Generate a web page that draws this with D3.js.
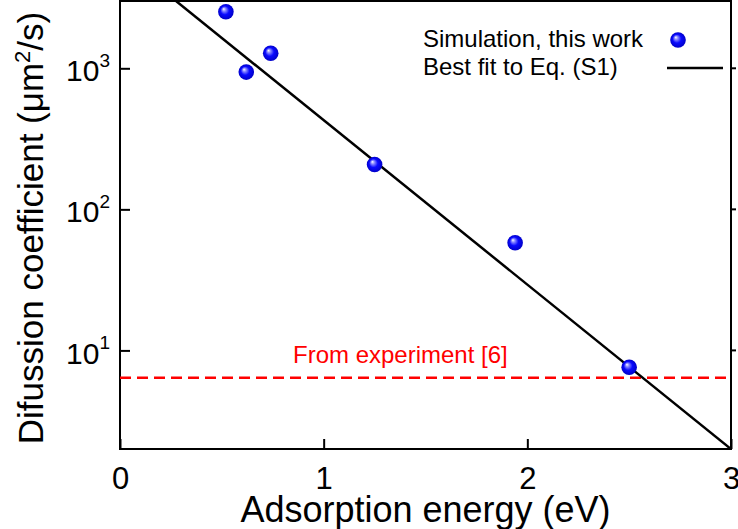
<!DOCTYPE html>
<html>
<head>
<meta charset="utf-8">
<script src="https://cdn.jsdelivr.net/npm/d3@7"></script>
<style>
  body { margin: 0; background: #fff; }
  text { font-family: "Liberation Sans", Arial, sans-serif; }
</style>
</head>
<body>
<div class="svg-container"></div>
<script>
// simulation points: adsorption energy (eV) vs diffusion coefficient (um^2/s)
var energy = [0.52, 0.62, 0.74, 1.25, 1.94, 2.50];
var diffusion = [2520, 940, 1280, 208, 58, 7.6];

// best fit to Eq. (S1), read as two end points
var fitEnergy = [0.275, 3.0];
var fitDiffusion = [3000, 2.0];

var experimentValue = 6.4;

var xTicks = [0, 1, 2, 3];
var yTicks = [10, 100, 1000];
var yExponents = ['1', '2', '3'];

var width = 738, height = 529;
var margin = {top: 1, right: 7, bottom: 80, left: 120};

var svg = d3.select('.svg-container').append('svg')
  .attr('width', width)
  .attr('height', height);

var defs = svg.append('defs');
var grad = defs.append('radialGradient')
  .attr('id', 'ball')
  .attr('cx', '50%').attr('cy', '50%').attr('r', '50%')
  .attr('fx', '35%').attr('fy', '32%');
grad.append('stop').attr('offset', '0%').attr('stop-color', '#ffffff');
grad.append('stop').attr('offset', '22%').attr('stop-color', '#8c8cff');
grad.append('stop').attr('offset', '55%').attr('stop-color', '#0a0aff');
grad.append('stop').attr('offset', '100%').attr('stop-color', '#0000c8');

defs.append('clipPath').attr('id', 'plot-clip')
  .append('rect')
  .attr('x', margin.left).attr('y', margin.top)
  .attr('width', width - margin.left - margin.right)
  .attr('height', height - margin.top - margin.bottom);

var x = d3.scaleLinear()
  .domain([0, 3])
  .range([margin.left, width - margin.right]);

var y = d3.scaleLog()
  .domain([2, 3000])
  .range([height - margin.bottom, margin.top]);

// frame
svg.append('rect')
  .attr('x', margin.left).attr('y', margin.top)
  .attr('width', width - margin.left - margin.right)
  .attr('height', height - margin.top - margin.bottom)
  .attr('fill', 'none')
  .attr('stroke', '#000')
  .attr('stroke-width', 2);

// axes with inward ticks
var xAxis = svg.append('g')
  .attr('transform', 'translate(0,' + (height - margin.bottom) + ')')
  .call(d3.axisBottom(x).tickValues(xTicks).tickSize(-10).tickPadding(18).tickFormat(d3.format('d')));

xAxis.select('.domain').remove();
xAxis.selectAll('line').attr('stroke-width', 2);
xAxis.selectAll('text')
  .attr('font-size', 31)
  .attr('fill', '#000')
  .attr('dy', '0.71em');

var yAxis = svg.append('g')
  .attr('transform', 'translate(' + margin.left + ',0)')
  .call(d3.axisLeft(y).tickValues(yTicks).tickSize(-10).tickPadding(10).tickFormat(function() { return ''; }));

yAxis.select('.domain').remove();
yAxis.selectAll('line').attr('stroke-width', 2);
yAxis.selectAll('text')
  .attr('font-size', 30)
  .attr('fill', '#000')
  .attr('dy', '0.42em')
  .each(function(d, i) {
    var t = d3.select(this);
    t.append('tspan').text('10');
    t.append('tspan').attr('font-size', 19).attr('dy', '-0.75em').text(yExponents[i]);
  });

// small outer ticks on the right side
svg.append('g').selectAll('line')
  .data(yTicks)
  .enter()
  .append('line')
  .attr('x1', width - margin.right)
  .attr('x2', width - margin.right + 5)
  .attr('y1', function(d) { return y(d); })
  .attr('y2', function(d) { return y(d); })
  .attr('stroke', '#000')
  .attr('stroke-width', 2);

// axis titles
svg.append('text')
  .attr('x', (margin.left + width - margin.right) / 2)
  .attr('y', 522)
  .attr('text-anchor', 'middle')
  .attr('font-size', 36)
  .text('Adsorption energy (eV)');

var yl = svg.append('text')
  .attr('transform', 'translate(43,228) rotate(-90)')
  .attr('text-anchor', 'middle')
  .attr('font-size', 35);
yl.append('tspan').text('Difussion coefficient (\u03bcm');
yl.append('tspan').attr('font-size', 22).attr('dy', '-0.6em').text('2');
yl.append('tspan').attr('dy', '0.38em').text('/s)');

var plot = svg.append('g').attr('clip-path', 'url(#plot-clip)');

// experiment reference
plot.append('line')
  .attr('x1', x(0)).attr('x2', x(3))
  .attr('y1', y(experimentValue)).attr('y2', y(experimentValue))
  .attr('stroke', '#ff0000')
  .attr('stroke-width', 2.5)
  .attr('stroke-dasharray', '11,6');

svg.append('text')
  .attr('x', 293)
  .attr('y', 363)
  .attr('font-size', 24)
  .attr('fill', '#ff0000')
  .text('From experiment [6]');

// fit line
var fitData = fitEnergy.map(function(e, i) { return [e, fitDiffusion[i]]; });
plot.append('path')
  .datum(fitData)
  .attr('d', d3.line().x(function(d) { return x(d[0]); }).y(function(d) { return y(d[1]); }))
  .attr('fill', 'none')
  .attr('stroke', '#000')
  .attr('stroke-width', 2.5);

// simulation points
var points = energy.map(function(e, i) { return {e: e, d: diffusion[i]}; });
svg.append('g').selectAll('circle')
  .data(points)
  .enter()
  .append('circle')
  .attr('cx', function(d) { return x(d.e); })
  .attr('cy', function(d) { return y(d.d); })
  .attr('r', 7.8)
  .attr('fill', 'url(#ball)');

// legend
var legend = svg.append('g');
legend.append('text')
  .attr('x', 423).attr('y', 47)
  .attr('font-size', 24)
  .text('Simulation, this work');
legend.append('circle')
  .attr('cx', 678).attr('cy', 40)
  .attr('r', 7.8)
  .attr('fill', 'url(#ball)');
legend.append('text')
  .attr('x', 423).attr('y', 75)
  .attr('font-size', 24)
  .text('Best fit to Eq. (S1)');
legend.append('line')
  .attr('x1', 667).attr('x2', 723)
  .attr('y1', 68).attr('y2', 68)
  .attr('stroke', '#000')
  .attr('stroke-width', 2.5);
</script>
</body>
</html>
